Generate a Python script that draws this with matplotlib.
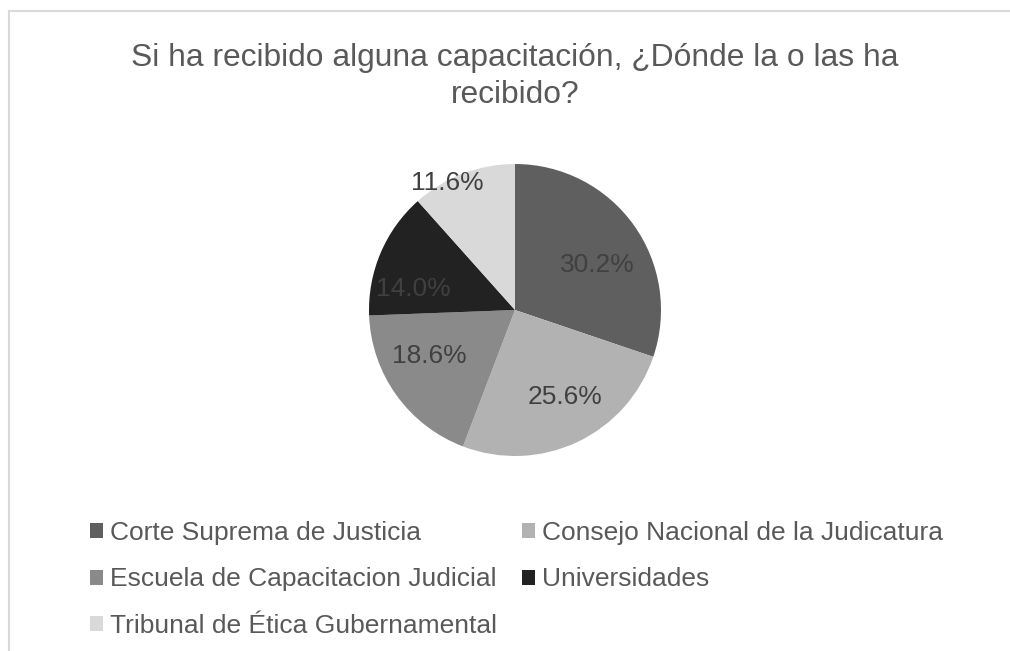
import matplotlib
matplotlib.use("Agg")
import matplotlib.pyplot as plt
from matplotlib.patches import Patch, Rectangle

categories = ["Corte Suprema de Justicia", "Consejo Nacional de la Judicatura",
              "Escuela de Capacitacion Judicial", "Universidades",
              "Tribunal de Ética Gubernamental"]
values = [30.2, 25.6, 18.6, 14.0, 11.6]
colors = ["#5f5f5f", "#b2b2b2", "#8a8a8a", "#222222", "#d9d9d9"]
title = "Si ha recibido alguna capacitación, ¿Dónde la o las ha\nrecibido?"

plt.rcParams['font.family'] = ['Liberation Sans', 'DejaVu Sans']
W, H = 1010, 651
fig = plt.figure(figsize=(W / 100, H / 100), dpi=100)

# chart border (light gray)
fig.patches.append(Rectangle((9 / W, 0 - 0.1), 1.2, (H - 11) / H + 0.1,
                             transform=fig.transFigure, fill=False,
                             edgecolor="#d9d9d9", linewidth=1.5))

fig.text(515 / W, 1 - 76.5 / H, title, ha="center", va="center",
         fontsize=22.9, color="#595959", linespacing=1.28)

cx, cy, r = 515, 310, 146
ax = fig.add_axes([(cx - r) / W, (H - cy - r) / H, 2 * r / W, 2 * r / H])
wedges, _ = ax.pie(values, colors=colors, startangle=90, counterclock=False,
                   radius=1, wedgeprops=dict(linewidth=0))
ax.set_xlim(-1, 1)
ax.set_ylim(-1, 1)
ax.set_aspect("equal")
ax.axis("off")

# label positions in pixels (layout)
label_pos = [(597, 265), (565, 397), (429, 356), (413, 289), (447, 183)]
for v, (px, py) in zip(values, label_pos):
    x = (px - cx) / r
    y = (cy - py) / r
    ax.text(x, y, f"{v:.1f}%", ha="center", va="center", fontsize=19,
            color="#404040")

handles = [Patch(facecolor=c, edgecolor="none") for c in colors]
order = [0, 2, 4, 1, 3]
leg = fig.legend([handles[i] for i in order], [categories[i] for i in order],
                 ncol=2, loc="upper left", bbox_to_anchor=(90 / W, 1 - 521 / H),
                 frameon=False, fontsize=19, handlelength=0.5, handleheight=0.5,
                 handletextpad=0.25, columnspacing=0.95, labelspacing=0.85,
                 borderpad=0, borderaxespad=0)
for t in leg.get_texts():
    t.set_color("#595959")

fig.savefig("out.png", dpi=100)
